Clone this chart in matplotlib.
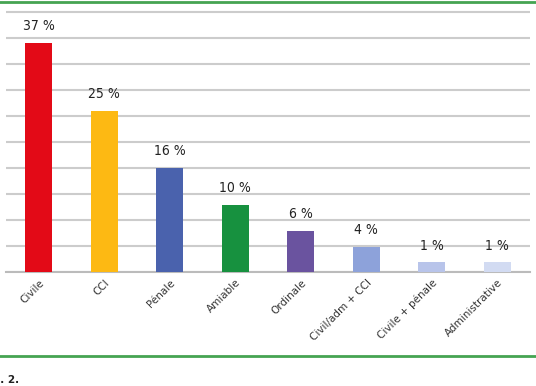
import numpy as np
import matplotlib
matplotlib.use('Agg')
import matplotlib.pyplot as plt
from matplotlib.lines import Line2D

# categories and values
categories = ['Civile', 'CCI', 'Pénale', 'Amiable', 'Ordinale',
              'Civil/adm + CCI', 'Civile + pénale', 'Administrative']
heights = [35.2, 24.8, 16.0, 10.3, 6.3, 3.9, 1.5, 1.5]     # bar heights (grid units)
labels = ['37 %', '25 %', '16 %', '10 %', '6 %', '4 %', '1 %', '1 %']
colors = ['#e30a17', '#fdb913', '#4a62ad', '#17913f', '#6a539f',
          '#8da2da', '#b8c4ea', '#d2dbf2']

W, H = 536, 386
fig = plt.figure(figsize=(W / 100, H / 100), dpi=100)
# axes spans y=10..272 px, grid step of 4 units = 26 px
ax = fig.add_axes([6 / W, (H - 272) / H, 524 / W, 262 / H])

x = np.arange(len(categories))
ax.bar(x, heights, width=0.41, color=colors, zorder=3)

for xi, h, lab in zip(x, heights, labels):
    ax.annotate(lab, (xi, h), xytext=(0, 7), textcoords='offset points',
                ha='center', va='bottom', fontsize=10, color='#222222',
                fontstretch='condensed')

ax.set_xlim(-0.5, len(categories) - 0.5)
ax.set_ylim(0, 40 * 262 / 260)
ax.set_yticks(np.arange(0, 41, 4))
ax.yaxis.grid(True, color='#cccccc', linewidth=1.5, zorder=0)
ax.tick_params(axis='y', left=False, labelleft=False)
ax.tick_params(axis='x', length=0, pad=4)
ax.set_xticks(x)
ax.set_xticklabels(categories, rotation=45, ha='right', va='top',
                   rotation_mode='anchor', fontsize=7.5, color='#333333')
for s in ['top', 'left', 'right']:
    ax.spines[s].set_visible(False)
ax.spines['bottom'].set_color('#bbbbbb')
ax.spines['bottom'].set_linewidth(1.5)

# green frame lines
green = '#45a452'
fig.add_artist(Line2D([0, 1], [1 - 1.5 / H, 1 - 1.5 / H], color=green, linewidth=2))
fig.add_artist(Line2D([0, 1], [1 - 356 / H, 1 - 356 / H], color=green, linewidth=2))

fig.text(-18 / W, 1 - 380 / H, 'Fig. 2.', fontsize=7.5, fontweight='bold',
         color='#222222', va='center', ha='left')

fig.savefig('out.png', dpi=100)
